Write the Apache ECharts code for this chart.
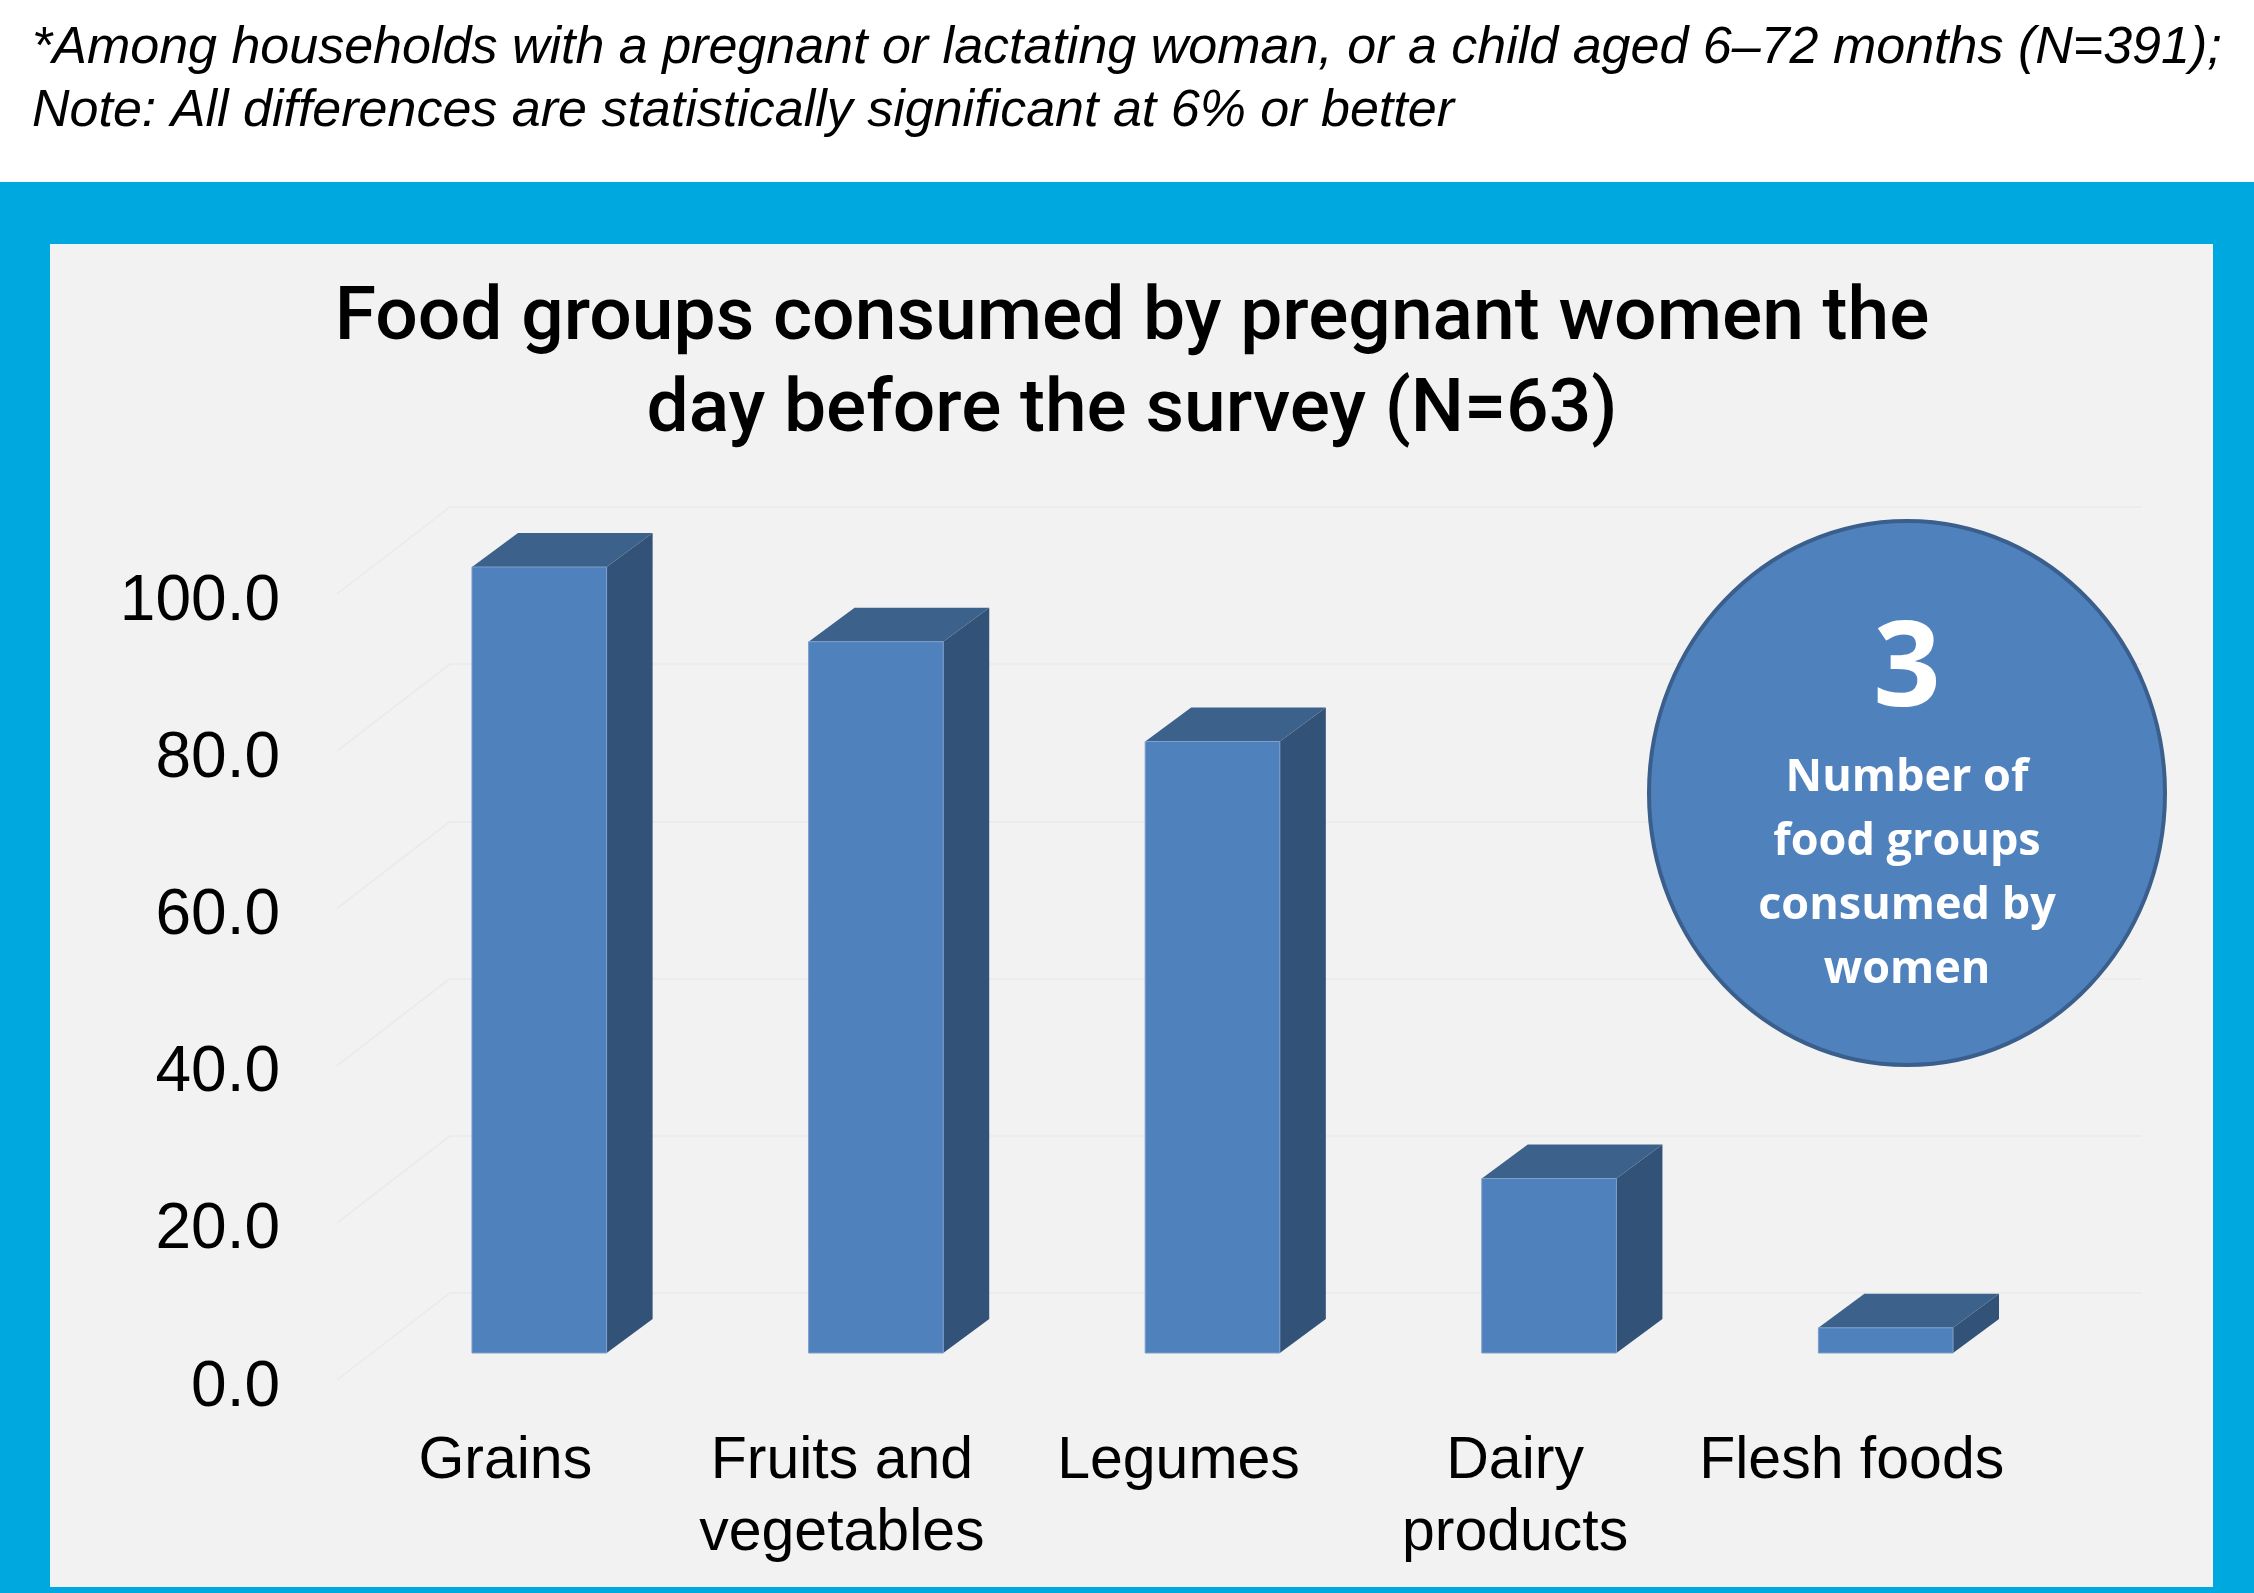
<!DOCTYPE html>
<html>
<head>
<meta charset="utf-8">
<script src="https://cdn.jsdelivr.net/npm/echarts@6/dist/echarts.min.js"></script>
<style>
html, body { margin: 0; padding: 0; background: #ffffff; }
#chart { width: 2254px; height: 1593px; }
</style>
</head>
<body>
<div id="chart"></div>
<script>
const categories = ['Grains', 'Fruits and\nvegetables', 'Legumes', 'Dairy\nproducts', 'Flesh foods'];
const shares = [100, 90.5, 77.8, 22.2, 3.2];
const yTicks = [0, 20, 40, 60, 80, 100];
const note = '*Among households with a pregnant or lactating woman, or a child aged 6\u201372 months (N=391);\nNote: All differences are statistically significant at 6% or better';
const chartTitle = 'Food groups consumed by pregnant women the\nday before the survey (N=63)';
const bubbleNumber = '3';
const bubbleText = 'Number of\nfood groups\nconsumed by\nwomen';

const front = '#4f81bd';
const topFace = '#3c628c';
const sideFace = '#325278';
const gridColor = '#eaeaea';

const chart = echarts.init(document.getElementById('chart'));

// depth of the 3d boxes and of the side wall
const depthX = 46, depthY = -34;
const wallX = 113, wallY = 87;

chart.setOption({
    animation: false,
    graphic: [
        { type: 'rect', z: -10, shape: { x: 0, y: 182, width: 2254, height: 1411 }, style: { fill: '#00a8e0' } },
        { type: 'rect', z: -9, shape: { x: 50, y: 244, width: 2163, height: 1343 }, style: { fill: '#f2f2f2' } },
        {
            type: 'text', left: 32, top: 17,
            style: { text: note, font: 'italic 52px "Liberation Sans", Arial', fill: '#000', lineHeight: 63 }
        },
        {
            type: 'text', x: 1132, y: 274,
            style: {
                text: chartTitle, font: '500 75px Roboto, sans-serif', fill: '#000',
                textAlign: 'center', textVerticalAlign: 'top', lineHeight: 92
            }
        },
        {
            type: 'ellipse', z: 5,
            shape: { cx: 1907, cy: 793, rx: 258, ry: 272 },
            style: { fill: '#4f81bd', stroke: '#3a5f8c', lineWidth: 4 }
        },
        {
            type: 'text', z: 6, x: 1907, y: 672,
            style: { text: bubbleNumber, font: 'bold 118px "Open Sans", sans-serif', fill: '#fff', textAlign: 'center', textVerticalAlign: 'middle' }
        },
        {
            type: 'text', z: 6, x: 1907, y: 746,
            style: {
                text: bubbleText, font: 'bold 45px "Open Sans", sans-serif', fill: '#fff',
                textAlign: 'center', textVerticalAlign: 'top', lineHeight: 64
            }
        }
    ],
    grid: [
        { left: 450, top: 507, width: 1692, height: 786 },   // back wall
        { left: 337, top: 602, width: 1683, height: 786 },   // axis labels
        { left: 371, top: 567, width: 1683, height: 786 }    // bars
    ],
    xAxis: [
        { gridIndex: 0, type: 'value', min: 0, max: 1, show: false },
        {
            gridIndex: 1, type: 'category', data: categories,
            axisLine: { show: false }, axisTick: { show: false },
            axisLabel: { margin: 38, fontSize: 59, lineHeight: 72, color: '#000', fontFamily: '"Liberation Sans", Arial', interval: 0 }
        },
        { gridIndex: 2, type: 'category', data: categories, show: false }
    ],
    yAxis: [
        {
            gridIndex: 0, type: 'value', min: 0, max: 100, interval: 20,
            axisLabel: { show: false }, axisLine: { show: false }, axisTick: { show: false },
            splitLine: { lineStyle: { color: gridColor, width: 1.5 } }
        },
        {
            gridIndex: 1, type: 'value', min: 0, max: 100, interval: 20,
            axisLine: { show: false }, axisTick: { show: false }, splitLine: { show: false },
            axisLabel: { margin: 57, fontSize: 64, color: '#000', fontFamily: '"Liberation Sans", Arial', formatter: v => v.toFixed(1) }
        },
        { gridIndex: 2, type: 'value', min: 0, max: 100, show: false }
    ],
    series: [
        {
            // side wall diagonals of the gridlines
            type: 'custom', xAxisIndex: 0, yAxisIndex: 0, silent: true,
            data: yTicks.map(v => [0, v]),
            renderItem: function (params, api) {
                const p = api.coord([0, api.value(1)]);
                return {
                    type: 'line',
                    shape: { x1: p[0], y1: p[1], x2: p[0] - wallX, y2: p[1] + wallY },
                    style: { stroke: gridColor, lineWidth: 1.5 }
                };
            }
        },
        {
            type: 'custom', xAxisIndex: 2, yAxisIndex: 2,
            data: shares.map((v, i) => [i, v]),
            renderItem: function (params, api) {
                const top = api.coord([api.value(0), api.value(1)]);
                const base = api.coord([api.value(0), 0]);
                const w = api.size([1, 0])[0] * 0.4;
                const x0 = top[0] - w / 2, x1 = top[0] + w / 2;
                return {
                    type: 'group',
                    children: [
                        {
                            type: 'polygon',
                            shape: { points: [[x1, top[1]], [x1 + depthX, top[1] + depthY], [x1 + depthX, base[1] + depthY], [x1, base[1]]] },
                            style: { fill: sideFace }
                        },
                        {
                            type: 'polygon',
                            shape: { points: [[x0, top[1]], [x0 + depthX, top[1] + depthY], [x1 + depthX, top[1] + depthY], [x1, top[1]]] },
                            style: { fill: topFace }
                        },
                        {
                            type: 'rect',
                            shape: { x: x0, y: top[1], width: w, height: base[1] - top[1] },
                            style: { fill: front, stroke: '#7d9fcc', lineWidth: 1 }
                        }
                    ]
                };
            }
        }
    ]
});
</script>
</body>
</html>
